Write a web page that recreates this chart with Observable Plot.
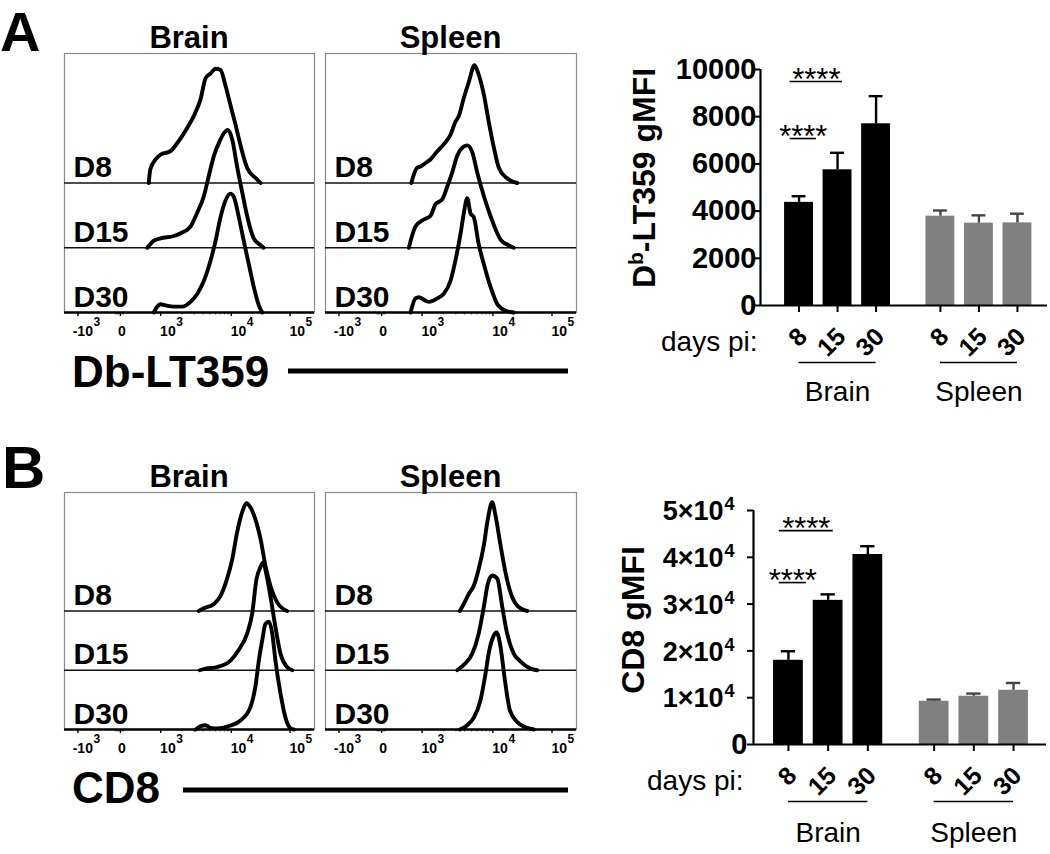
<!DOCTYPE html>
<html><head><meta charset="utf-8">
<script src="https://cdn.jsdelivr.net/npm/d3@7"></script>
<script src="https://cdn.jsdelivr.net/npm/@observablehq/plot@0.6"></script>
<style>
html,body{margin:0;padding:0;background:#fff;}
#fig{position:relative;width:1050px;height:854px;overflow:hidden;background:#fff;font-family:"Liberation Sans",Arial,Helvetica,sans-serif;}
#fig svg{position:absolute;}
</style></head><body><div id="fig"></div><script>
// ---------------- DATA ----------------
const sampleLabels = ["D8", "D15", "D30"];
// Histograms: [display channel (0-1024), % of mode]
const aBrainD8  = [[345,0],[352,12],[373,20],[393,24],[434,27],[462,34],[503,47],[530,57],[557,71],[578,89],[598,93],[619,97],[639,96],[659,83],[680,66],[700,50],[721,32],[748,13],[789,3],[803,0]];
const aBrainD15 = [[339,0],[366,6],[393,8],[448,10],[482,13],[516,18],[544,30],[571,44],[591,61],[612,78],[639,92],[655,98],[669,100],[687,92],[707,69],[728,47],[748,27],[775,8],[810,1],[815,0]];
const aBrainD30 = [[366,0],[380,5],[393,7],[414,6],[448,5],[482,5],[516,9],[544,16],[571,27],[598,44],[619,61],[639,81],[659,95],[680,101],[694,98],[714,81],[734,61],[755,41],[775,22],[796,6],[810,0]];
const aSpleenD8  = [[350,0],[374,13],[388,14],[408,17],[428,20],[456,27],[483,33],[510,41],[530,52],[544,57],[564,72],[585,86],[608,100],[625,92],[646,75],[666,52],[687,30],[707,13],[741,4],[782,0]];
const aSpleenD15 = [[340,0],[367,18],[401,24],[428,27],[449,37],[476,41],[497,52],[517,64],[537,78],[558,85],[578,87],[599,81],[619,64],[646,44],[673,27],[714,7],[748,2],[768,0]];
const aSpleenD30 = [[347,0],[367,12],[381,13],[421,9],[456,12],[483,16],[510,27],[530,44],[551,67],[564,84],[578,97],[592,84],[605,81],[625,58],[646,41],[673,22],[701,7],[734,1.5],[768,0]];
const bBrainD8  = [[550,0],[571,2.5],[612,6.5],[639,14],[666,30],[687,48],[707,73],[728,92],[745,100],[762,96],[782,85],[803,67],[823,42],[844,23],[871,8],[898,1.5],[912,0]];
const bBrainD15 = [[554,0],[578,1.5],[625,3],[680,9],[714,19],[748,34],[769,53],[786,84],[803,96],[814,100],[826,90],[844,68],[864,40],[885,15],[912,3],[933,0]];
const bBrainD30 = [[537,0],[557,3],[578,4],[598,1.5],[625,1],[680,3.7],[721,8.4],[762,21],[782,40],[796,64],[810,83],[823,98],[837,100],[851,89],[864,64],[885,33],[905,11],[926,1],[939,0]];
const bSpleenD8  = [[548,0],[564,6.5],[585,16],[605,23.5],[625,39],[646,61],[662,85],[680,101],[694,88],[714,61],[734,36],[755,17],[782,5],[823,0]];
const bSpleenD15 = [[537,0],[564,5],[599,15.5],[625,34],[646,59],[662,80],[680,88],[701,85],[721,59],[741,34],[768,15.5],[796,8],[836,1.5],[864,0]];
const bSpleenD30 = [[548,0],[578,4],[605,11],[632,27],[653,52],[666,71],[684,86],[698,90],[714,77],[730,49],[752,18],[782,7],[816,2],[850,0]];
// Histogram axis: tick channels and labels
const histTickCh   = [55, 229, 394, 683, 924];
const histTickBase = ["-10", "0", "10", "10", "10"];
const histTickExp  = ["3", "", "3", "4", "5"];
const histZeroMinor = [210, 216, 222, 236, 242];

// Bar charts
const days = ["8", "15", "30"];
const tissues = ["Brain", "Spleen"];
const dbBrain = [4370, 5750, 7700];
const dbBrainSem = [260, 720, 1170];
const dbSpleen = [3785, 3490, 3500];
const dbSpleenSem = [240, 330, 390];
const cd8Brain = [18000, 30800, 40600];
const cd8BrainSem = [1920, 1280, 1770];
const cd8Spleen = [9240, 10310, 11590];
const cd8SpleenSem = [360, 570, 1560];
const dbTicks = [0, 2000, 4000, 6000, 8000, 10000];
const dbTickLabels = ["0", "2000", "4000", "6000", "8000", "10000"];
const cd8Ticks = [0, 10000, 20000, 30000, 40000, 50000];
const cd8TickBase = ["0", "1×10", "2×10", "3×10", "4×10", "5×10"];
const cd8TickExp = ["", "4", "4", "4", "4", "4"];
// significance brackets: [from bar, to bar, bracket height]
const dbSig = [[0, 1, 7075], [0, 2, 9490]];
const cd8Sig = [[0, 1, 34600], [0, 2, 45700]];
const sigLabel = "****";

// ---------------- DRAWING ----------------
const FONT = '"Liberation Sans", Arial, Helvetica, sans-serif';
const fig = document.getElementById("fig");
const stagger = [110, 55, 0]; // 25% offset of a 0-220 frame
const minorDecade = d3.range(2, 10).map(k => histTickCh[2] + Math.log10(k) * (histTickCh[3] - histTickCh[2]));

function place(svg, left, top) {
  svg.style.position = "absolute";
  svg.style.left = left + "px";
  svg.style.top = top + "px";
  fig.appendChild(svg);
  return svg;
}

function histogram(curves, box) {
  const ml = 12, mr = 16, mt = 2, mb = 34;
  const data = curves.flatMap((pts, i) => pts.map(([c, v]) => ({c, y: v + stagger[i], s: sampleLabels[i]})));
  const ticks = histTickCh.map((c, i) => ({c, base: histTickBase[i], exp: histTickExp[i]}));
  const svg = Plot.plot({
    width: box.w + ml + mr, height: box.h + mt + mb,
    marginLeft: ml, marginRight: mr, marginTop: mt, marginBottom: mb,
    x: {domain: [0, 1024], axis: null, label: null},
    y: {domain: [0, 220], axis: null, label: null},
    style: {background: "transparent", overflow: "visible", fontFamily: FONT, color: "#000"},
    marks: [
      Plot.frame({stroke: "#8a8a8a", strokeWidth: 1.2}),
      Plot.ruleY(stagger.slice(0, 2), {stroke: "#111", strokeWidth: 1.7}),
      Plot.axisX({ticks: minorDecade.concat(histZeroMinor), tickSize: 2.5, tickFormat: () => "", label: null, strokeWidth: 1, stroke: "#555"}),
      Plot.axisX({ticks: histTickCh, tickSize: 4, tickFormat: () => "", label: null, strokeWidth: 1.4}),
      Plot.ruleY([0], {stroke: "#000", strokeWidth: 2.4}),
      Plot.line(data, {x: "c", y: "y", z: "s", stroke: "#000", strokeWidth: 3.9, curve: "monotone-x", strokeLinejoin: "round"}),
      Plot.text(sampleLabels, {y: (d, i) => stagger[i], text: d => d, frameAnchor: "left", textAnchor: "start", lineAnchor: "bottom", dx: 9, dy: -6, fontSize: 30, fontWeight: "bold"}),
      Plot.text(ticks.filter(t => t.base !== "0"), {x: "c", text: "base", frameAnchor: "bottom", textAnchor: "end", lineAnchor: "middle", dx: 15, dy: 19, fontSize: 14, fontWeight: "bold"}),
      Plot.text(ticks.filter(t => t.exp !== ""), {x: "c", text: "exp", frameAnchor: "bottom", textAnchor: "start", lineAnchor: "middle", dx: 15.5, dy: 9.5, fontSize: 12, fontWeight: "bold"}),
      Plot.text(ticks.filter(t => t.base === "0"), {x: "c", text: "base", frameAnchor: "bottom", textAnchor: "middle", lineAnchor: "middle", dx: 1.5, dy: 19, fontSize: 14, fontWeight: "bold"})
    ]
  });
  return place(svg, box.x - ml, box.y - mt);
}

histogram([aBrainD8, aBrainD15, aBrainD30], {x: 64, y: 53, w: 250, h: 259});
histogram([aSpleenD8, aSpleenD15, aSpleenD30], {x: 325, y: 53, w: 251, h: 259});
histogram([bBrainD8, bBrainD15, bBrainD30], {x: 64, y: 492, w: 250, h: 237});
histogram([bSpleenD8, bSpleenD15, bSpleenD30], {x: 325, y: 492, w: 251, h: 237});

const groupShift = 3.67;
function barChart(cfg) {
  const bars = [];
  tissues.forEach((t, g) => days.forEach((d, j) => {
    const v = (g ? cfg.spleen : cfg.brain)[j], e = (g ? cfg.spleenSem : cfg.brainSem)[j];
    bars.push({t, d, pos: 1 + j + g * groupShift, v, e});
  }));
  const groups = tissues.map(t => {
    const b = bars.filter(d => d.t === t);
    return {t, x1: b[0].pos, x2: b[b.length - 1].pos, xc: (b[0].pos + b[b.length - 1].pos) / 2};
  });
  const sig = cfg.sig.map(([a, b, y]) => {
    const x1 = bars[a].pos - 0.23, x2 = x1 + 0.68 * (b - a);
    return {x1, x2, xc: (x1 + x2) / 2, y};
  });
  const x0 = cfg.xDomain[0];
  const marks = [
    Plot.rectY(bars.filter(d => d.t === "Brain"), {x1: d => d.pos - 0.375, x2: d => d.pos + 0.375, y: "v", fill: "#000"}),
    Plot.rectY(bars.filter(d => d.t === "Spleen"), {x1: d => d.pos - 0.375, x2: d => d.pos + 0.375, y: "v", fill: "#808080"}),
    Plot.ruleX(bars, {x: "pos", y1: "v", y2: d => d.v + d.e, stroke: d => d.t === "Brain" ? "black" : "#444", strokeWidth: 2.4}),
    Plot.ruleY(bars, {y: d => d.v + d.e, x1: d => d.pos - 0.18, x2: d => d.pos + 0.18, stroke: d => d.t === "Brain" ? "black" : "#444", strokeWidth: 2.4}),
    Plot.ruleX([x0], {y1: 0, y2: cfg.yMax, strokeWidth: 2.2}),
    Plot.ruleY([0], {strokeWidth: 2.2}),
    Plot.axisY({ticks: cfg.yTicks, tickSize: 6, tickFormat: () => "", label: null, strokeWidth: 2}),
    Plot.axisX({ticks: bars.map(d => d.pos), tickSize: 7, tickFormat: () => "", label: null, strokeWidth: 2}),
    Plot.text(bars, {x: "pos", text: "d", frameAnchor: "bottom", rotate: -45, textAnchor: "end", lineAnchor: "middle", dx: 4, dy: 27, fontSize: 25, fontWeight: "bold"}),
    Plot.text(["days pi:"], {text: d => d, frameAnchor: "bottom-left", textAnchor: "end", lineAnchor: "middle", dx: cfg.daysDx, dy: 37, fontSize: 28}),
    Plot.ruleY(groups, {y: d => 0, x1: "x1", x2: "x2", dy: 57, strokeWidth: 1.6}),
    Plot.text(groups, {x: "xc", text: "t", frameAnchor: "bottom", textAnchor: "middle", lineAnchor: "middle", dy: cfg.groupDy, fontSize: 28}),
    Plot.ruleY(sig, {y: "y", x1: "x1", x2: "x2", strokeWidth: 1.6}),
    Plot.text(sig, {x: "xc", y: "y", text: d => sigLabel, textAnchor: "middle", lineAnchor: "bottom", dy: 8, fontSize: 31}),
    ...cfg.tickLabelMarks
  ];
  const svg = Plot.plot({
    width: cfg.width, height: cfg.height,
    marginLeft: cfg.ml, marginRight: cfg.mr, marginTop: cfg.mt, marginBottom: cfg.mb,
    x: {domain: cfg.xDomain, axis: null, label: null},
    y: {domain: [0, cfg.yMax], axis: null, label: null},
    style: {background: "transparent", overflow: "visible", fontFamily: FONT, color: "#000"},
    marks
  });
  const t = d3.select(svg).append("text")
    .attr("transform", `translate(${cfg.titleX},${cfg.titleY}) rotate(-90)`)
    .attr("text-anchor", "middle").attr("font-weight", "bold").attr("font-size", 32)
    .attr("font-family", FONT).attr("fill", "#000");
  cfg.title.forEach(([s, sup]) => {
    if (sup) t.append("tspan").attr("dy", -12).attr("font-size", 21).text(s);
    else t.append("tspan").attr("dy", t.selectAll("tspan").size() ? 12 : 0).text(s);
  });
  return place(svg, cfg.left, cfg.top);
}

barChart({
  left: 590, top: 0, width: 460, height: 420, ml: 170, mr: 3, mt: 69, mb: 115,
  xDomain: [0, 7.45], yMax: 10000, yTicks: dbTicks,
  brain: dbBrain, brainSem: dbBrainSem, spleen: dbSpleen, spleenSem: dbSpleenSem, sig: dbSig,
  daysDx: -3, groupDy: 87, titleX: 53, titleY: 178,
  title: [["D", false], ["b", true], ["-LT359 gMFI", false]],
  tickLabelMarks: [
    Plot.text(dbTicks, {y: d => d, text: (d, i) => dbTickLabels[i], frameAnchor: "left", textAnchor: "end", lineAnchor: "middle", dx: -4, fontSize: 29, fontWeight: "bold"})
  ]
});

barChart({
  left: 590, top: 420, width: 460, height: 434, ml: 163, mr: 4, mt: 90, mb: 110,
  xDomain: [0.12, 7.5], yMax: 50000, yTicks: cd8Ticks,
  brain: cd8Brain, brainSem: cd8BrainSem, spleen: cd8Spleen, spleenSem: cd8SpleenSem, sig: cd8Sig,
  daysDx: -10, groupDy: 89, titleX: 42, titleY: 200,
  title: [["CD8 gMFI", false]],
  tickLabelMarks: [
    Plot.text(cd8Ticks.slice(1), {y: d => d, text: (d, i) => cd8TickBase[i + 1], frameAnchor: "left", textAnchor: "end", lineAnchor: "middle", dx: -30, dy: 1, fontSize: 27, fontWeight: "bold"}),
    Plot.text(cd8Ticks.slice(1), {y: d => d, text: (d, i) => cd8TickExp[i + 1], frameAnchor: "left", textAnchor: "start", lineAnchor: "middle", dx: -29, dy: -6, fontSize: 18, fontWeight: "bold"}),
    Plot.text([cd8Ticks[0]], {y: d => d, text: d => cd8TickBase[0], frameAnchor: "left", textAnchor: "end", lineAnchor: "middle", dx: -6, fontSize: 29, fontWeight: "bold"})
  ]
});

// ---------------- overlay text ----------------
const ov = d3.select(fig).append("svg").attr("width", 1050).attr("height", 854)
  .style("left", "0px").style("top", "0px").attr("font-family", FONT);
const txt = (s, x, y, size, anchor = "start", weight = "bold") =>
  ov.append("text").attr("x", x).attr("y", y).attr("font-size", size).attr("font-weight", weight)
    .attr("text-anchor", anchor).attr("fill", "#000").text(s);
txt("A", 0, 51, 56);
txt("B", 2, 488, 60);
txt("Brain", 189, 48, 31, "middle");
txt("Spleen", 450.5, 48, 31, "middle");
txt("Brain", 189, 487, 31, "middle");
txt("Spleen", 450.5, 487, 31, "middle");
txt("Db-LT359", 72, 387, 44);
txt("CD8", 72, 803, 44);
ov.append("line").attr("x1", 288).attr("x2", 568).attr("y1", 371).attr("y2", 371).attr("stroke", "#000").attr("stroke-width", 5);
ov.append("line").attr("x1", 183).attr("x2", 568).attr("y1", 790).attr("y2", 790).attr("stroke", "#000").attr("stroke-width", 5);
</script></body></html>
